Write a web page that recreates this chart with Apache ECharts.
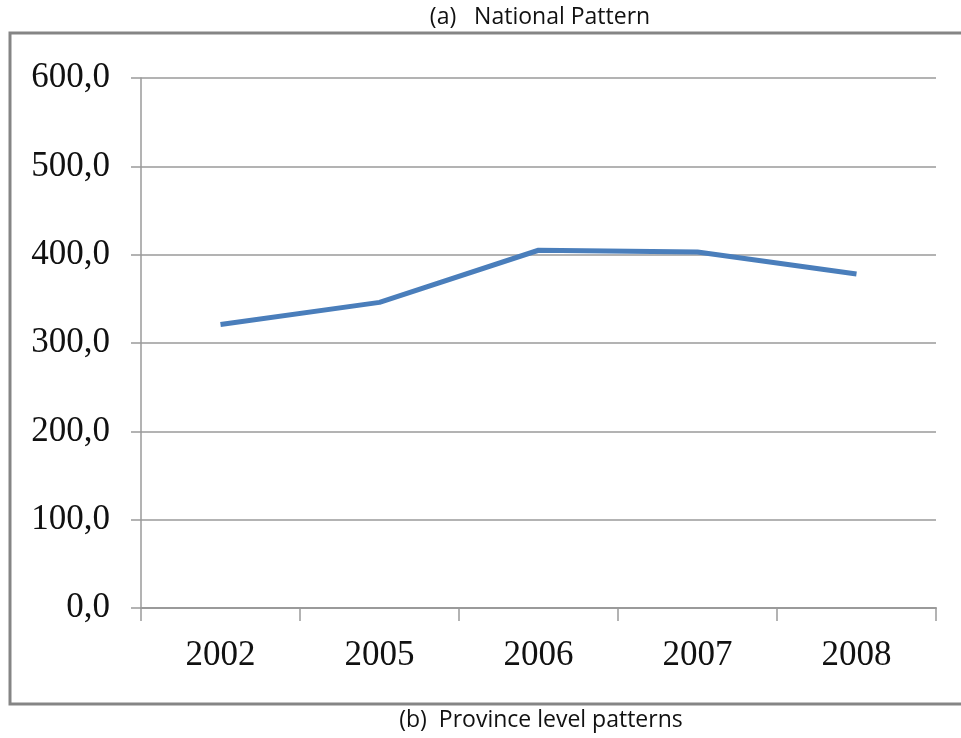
<!DOCTYPE html>
<html>
<head>
<meta charset="utf-8">
<script src="https://cdn.jsdelivr.net/npm/echarts@6/dist/echarts.min.js"></script>
<style>
  html, body { margin: 0; padding: 0; background: #fff }
  #chart { width: 961px; height: 738px }
</style>
</head>
<body>
<div id="chart"></div>
<script>
// national pattern, 2002-2008
const years = ['2002', '2005', '2006', '2007', '2008']
const values = [321, 346, 405, 403, 378]
const yTicks = [0, 100, 200, 300, 400, 500, 600]

const chart = echarts.init(document.getElementById('chart'))
chart.setOption({
  animation: false,
  title: [
    {
      text: '(a)   National Pattern', left: 535, top: 1, textAlign: 'center',
      textStyle: { fontFamily: 'Open Sans', fontSize: 23, fontWeight: 'normal', color: '#111' },
    },
    {
      text: '(b)  Province level patterns', left: 536, top: 704, textAlign: 'center',
      textStyle: { fontFamily: 'Open Sans', fontSize: 23, fontWeight: 'normal', color: '#111' },
    },
  ],
  graphic: [{
    type: 'polyline',
    shape: { points: [[964, 33], [10, 33], [10, 704], [964, 704]] },
    style: { stroke: '#858585', lineWidth: 3, fill: null },
  }],
  grid: { left: 141, right: 25, top: 78, bottom: 130 },
  xAxis: {
    type: 'category',
    data: years,
    axisLine: { lineStyle: { color: '#9a9a9a', width: 2 } },
    axisTick: { show: true, length: 13, lineStyle: { color: '#9a9a9a', width: 1.5 } },
    axisLabel: { margin: 30, fontFamily: 'Liberation Serif', fontSize: 35, color: '#111' },
  },
  yAxis: {
    type: 'value',
    min: yTicks[0], max: yTicks[yTicks.length - 1], interval: 100,
    axisLine: { show: true, lineStyle: { color: '#9a9a9a', width: 1.5 } },
    axisTick: { show: true, length: 10, lineStyle: { color: '#9a9a9a', width: 1.5 } },
    splitLine: { lineStyle: { color: '#9a9a9a', width: 1.5 } },
    axisLabel: {
      margin: 31, fontFamily: 'Liberation Serif', fontSize: 35, color: '#111',
      formatter: v => v.toFixed(1).replace('.', ','),
    },
  },
  series: [{
    type: 'line',
    data: values,
    symbol: 'none',
    lineStyle: { color: '#4a7ebb', width: 5 },
  }],
})
</script>
</body>
</html>
